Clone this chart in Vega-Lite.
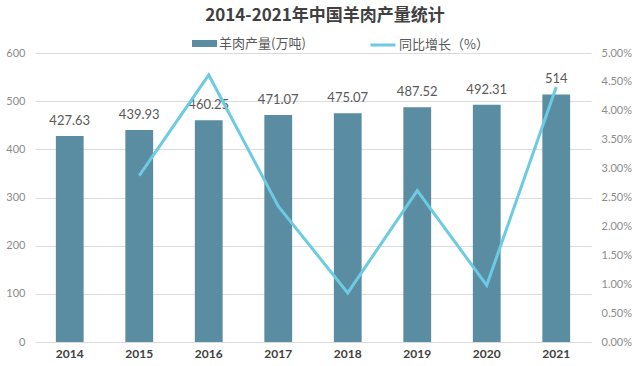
{
  "$schema": "https://vega.github.io/schema/vega-lite/v6.json",
  "autosize": {"type": "none"},
  "width": 556,
  "height": 289,
  "padding": {"left": 35, "top": 53, "right": 49, "bottom": 24},
  "background": "white",
  "title": {
    "text": "2014-2021年中国羊肉产量统计",
    "font": "Noto Sans CJK SC",
    "fontSize": 17,
    "fontWeight": "bold",
    "color": "#404040",
    "anchor": "middle",
    "offset": 6,
    "dx": 12
  },
  "data": {
    "values": [
      {"year": "2014", "production": 427.63, "growth": null},
      {"year": "2015", "production": 439.93, "growth": 0.0288},
      {"year": "2016", "production": 460.25, "growth": 0.0462},
      {"year": "2017", "production": 471.07, "growth": 0.0235},
      {"year": "2018", "production": 475.07, "growth": 0.0085},
      {"year": "2019", "production": 487.52, "growth": 0.0262},
      {"year": "2020", "production": 492.31, "growth": 0.0098},
      {"year": "2021", "production": 514, "growth": 0.0441}
    ]
  },
  "encoding": {
    "x": {
      "field": "year",
      "type": "nominal",
      "title": null,
      "scale": {"paddingInner": 0.6, "paddingOuter": 0.3},
      "axis": {
        "labelAngle": 0,
        "domain": false,
        "ticks": false,
        "labelFont": "Lato",
        "labelFontSize": 12,
        "labelFontWeight": "bold",
        "labelColor": "#404040",
        "labelPadding": 6
      }
    }
  },
  "layer": [
    {
      "encoding": {
        "y": {
          "field": "production",
          "type": "quantitative",
          "title": null,
          "scale": {"domain": [0, 600], "nice": false},
          "axis": {
            "orient": "left",
            "values": [0, 100, 200, 300, 400, 500, 600],
            "grid": true,
            "gridColor": "#dcdcdc",
            "domain": false,
            "ticks": false,
            "labelFont": "Lato",
            "labelFontSize": 11,
            "labelColor": "#8c8c8c",
            "labelPadding": 10
          }
        }
      },
      "layer": [
        {
          "mark": {"type": "bar", "color": "#5a8da2"},
          "encoding": {
            "fill": {
              "datum": "羊肉产量(万吨)",
              "type": "nominal",
              "scale": {"range": ["#5a8da2"]},
              "legend": {
                "orient": "none",
                "legendX": 157,
                "legendY": -22,
                "title": null,
                "symbolType": "M-1,-0.28H1V0.28H-1Z",
                "symbolSize": 625,
                "symbolStrokeWidth": 0,
                "labelFont": "Noto Sans CJK SC",
                "labelFontSize": 13,
                "labelColor": "#595959",
                "labelOffset": 2
              }
            }
          }
        },
        {
          "mark": {"type": "text", "baseline": "middle", "dy": -15, "font": "Lato", "fontSize": 13, "color": "#595959"},
          "encoding": {
            "text": {"field": "production", "type": "nominal"}
          }
        }
      ]
    },
    {
      "mark": {"type": "line", "strokeWidth": 3},
      "encoding": {
        "y": {
          "field": "growth",
          "type": "quantitative",
          "title": null,
          "scale": {"domain": [0, 0.05], "nice": false},
          "axis": {
            "orient": "right",
            "values": [0, 0.005, 0.01, 0.015, 0.02, 0.025, 0.03, 0.035, 0.04, 0.045, 0.05],
            "format": ".2%",
            "grid": false,
            "domain": false,
            "ticks": false,
            "labelFont": "Lato",
            "labelFontSize": 11,
            "labelColor": "#8c8c8c",
            "labelPadding": 10
          }
        },
        "stroke": {
          "datum": "同比增长（%）",
          "type": "nominal",
          "scale": {"range": ["#6ccbe2"]},
          "legend": {
            "orient": "none",
            "legendX": 334,
            "legendY": -22,
            "title": null,
            "symbolType": "stroke",
            "symbolSize": 625,
            "symbolStrokeWidth": 3,
            "labelFont": "Noto Sans CJK SC",
            "labelFontSize": 13,
            "labelColor": "#595959",
            "labelOffset": 2
          }
        }
      }
    }
  ],
  "resolve": {"scale": {"y": "independent"}},
  "config": {"view": {"stroke": null}}
}
